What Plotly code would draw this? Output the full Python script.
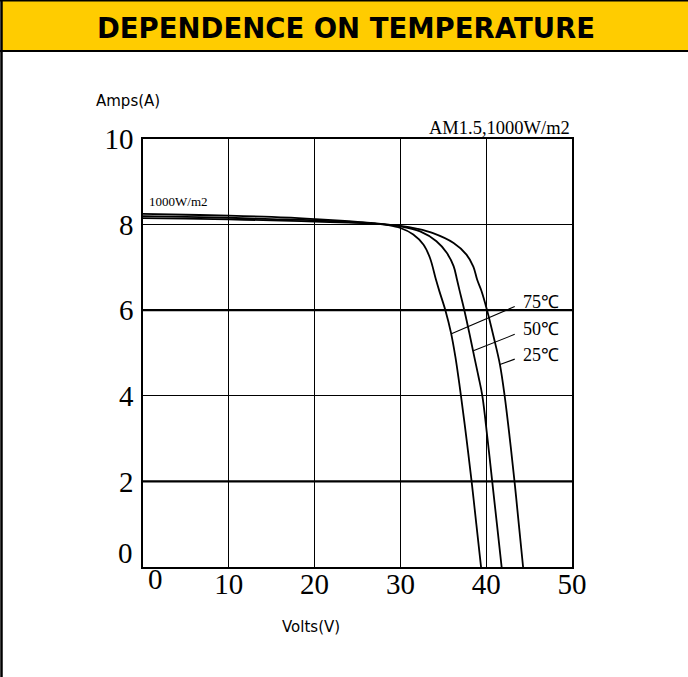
import plotly.graph_objects as go

# ---- data ----
v_25 = [0, 5, 10, 15, 20, 25, 27, 30, 32, 33.8, 36.2, 37.7, 38.5, 38.95, 39.45, 40.1, 40.9, 41.6, 42.15, 42.75, 43.3, 43.8, 44.3]
i_25 = [8.15, 8.14, 8.12, 8.10, 8.07, 8.04, 8.02, 7.97, 7.90, 7.80, 7.57, 7.30, 7.02, 6.71, 6.45, 6.00, 5.35, 4.73, 4.00, 3.00, 2.00, 1.00, 0]

v_50 = [0, 5, 10, 15, 20, 24, 27, 30, 32.3, 34.2, 35.4, 36.2, 36.6, 36.87, 37.45, 38.03, 38.6, 39.1, 39.55, 40.15, 40.7, 41.25, 41.8]
i_50 = [8.20, 8.18, 8.16, 8.13, 8.10, 8.06, 8.02, 7.96, 7.84, 7.61, 7.34, 7.03, 6.71, 6.48, 6.00, 5.47, 4.92, 4.45, 4.00, 3.00, 2.00, 1.00, 0]

v_75 = [0, 5, 10, 15, 20, 24, 26.5, 28.5, 30, 31.5, 32.7, 33.45, 34.15, 34.55, 35.24, 35.9, 36.4, 36.75, 37.06, 37.7, 38.3, 38.85, 39.4]
i_75 = [8.25, 8.23, 8.21, 8.18, 8.13, 8.08, 8.04, 7.99, 7.92, 7.77, 7.53, 7.22, 6.71, 6.44, 6.00, 5.47, 4.92, 4.45, 4.00, 3.00, 2.00, 1.00, 0]

x_ticks = [10, 20, 30, 40, 50]
y_ticks = [2, 4, 6, 8, 10]
thick_grid_y = [2, 6]

# leader lines: (point on curve V, I) -> (label side V, I)
leaders = {
    "75℃": ((35.95, 5.45), (43.5, 6.1)),
    "50℃": ((38.5, 5.05), (43.5, 5.45)),
    "25℃": ((41.6, 4.73), (43.5, 4.87)),
}
label_pos = {"75℃": (44.0, 6.2), "50℃": (44.0, 5.57), "25℃": (44.0, 4.96)}

# ---- layout geometry ----
W, H = 688, 677
L, R, T, B = 143, 572, 139, 567


def px(xp):
    return (xp - L) / (R - L)


def py(yp):
    return (B - yp) / (B - T)


fig = go.Figure()
for name, v, i in [("25℃", v_25, i_25), ("50℃", v_50, i_50), ("75℃", v_75, i_75)]:
    fig.add_trace(go.Scatter(x=v, y=i, mode="lines", name=name,
                             line=dict(color="black", width=1.8, shape="spline", smoothing=1.0),
                             showlegend=False, hoverinfo="skip"))

serif = "Liberation Serif, Times New Roman, serif"
sans = "DejaVu Sans, sans-serif"

fig.update_xaxes(range=[0, 50], tickvals=x_ticks, ticktext=[str(t) for t in x_ticks],
                 showgrid=True, gridcolor="black", gridwidth=1,
                 showline=True, linecolor="black", linewidth=1.5, mirror=True,
                 zeroline=False, ticks="", ticklabelstandoff=-10,
                 tickfont=dict(family=serif, size=29, color="black"))
fig.update_yaxes(range=[0, 10], tickvals=y_ticks, ticktext=[str(t) for t in y_ticks],
                 showgrid=True, gridcolor="black", gridwidth=1,
                 showline=True, linecolor="black", linewidth=1.5, mirror=True,
                 zeroline=False, ticks="", ticklabelstandoff=2,
                 tickfont=dict(family=serif, size=29, color="black"))

shapes = []
for yv in thick_grid_y:
    shapes.append(dict(type="line", xref="paper", yref="y", x0=0, x1=1, y0=yv, y1=yv,
                       line=dict(color="black", width=2.2), layer="above"))
# title bar
shapes.append(dict(type="rect", xref="paper", yref="paper", x0=px(1), x1=px(W + 5), y0=py(51), y1=py(1),
                   fillcolor="#FFCC00", line=dict(width=0), layer="below"))
shapes.append(dict(type="line", xref="paper", yref="paper", x0=px(0), x1=px(W + 5), y0=py(0.8), y1=py(0.8),
                   line=dict(color="black", width=1.6)))
shapes.append(dict(type="line", xref="paper", yref="paper", x0=px(0), x1=px(W + 5), y0=py(51), y1=py(51),
                   line=dict(color="black", width=2)))
shapes.append(dict(type="line", xref="paper", yref="paper", x0=px(1.5), x1=px(1.5), y0=py(0), y1=py(H + 5),
                   line=dict(color="black", width=2.5)))

annotations = []
annotations.append(dict(text="<b>DEPENDENCE ON TEMPERATURE</b>", xref="paper", yref="paper",
                        x=px(346), y=py(28), showarrow=False, xanchor="center", yanchor="middle",
                        font=dict(family="DejaVu Sans, sans-serif", size=27.5, color="black")))
annotations.append(dict(text="Amps(A)", xref="paper", yref="paper", x=px(128), y=py(101),
                        showarrow=False, xanchor="center", yanchor="middle",
                        font=dict(family=sans, size=15, color="black")))
annotations.append(dict(text="Volts(V)", xref="paper", yref="paper", x=px(311), y=py(627),
                        showarrow=False, xanchor="center", yanchor="middle",
                        font=dict(family=sans, size=15, color="black")))
annotations.append(dict(text="AM1.5,1000W/m2", xref="paper", yref="paper", x=1.0, y=py(128),
                        showarrow=False, xanchor="right", yanchor="middle",
                        font=dict(family=serif, size=18.5, color="black")))
annotations.append(dict(text="1000W/m2", xref="paper", yref="paper", x=px(147), y=py(201),
                        showarrow=False, xanchor="left", yanchor="middle",
                        font=dict(family=serif, size=13, color="black")))
# zero tick labels (offset as in the picture)
annotations.append(dict(text="0", xref="paper", yref="y", x=0, y=0, xshift=-8, yshift=14,
                        showarrow=False, xanchor="right", yanchor="middle",
                        font=dict(family=serif, size=29, color="black")))
annotations.append(dict(text="0", xref="x", yref="paper", x=0, y=0, xshift=12, yshift=6,
                        showarrow=False, xanchor="center", yanchor="top",
                        font=dict(family=serif, size=29, color="black")))

for name, ((cx, cy), (lx, ly)) in leaders.items():
    annotations.append(dict(text="", x=cx, y=cy, ax=lx, ay=ly, xref="x", yref="y", axref="x", ayref="y",
                            showarrow=True, arrowhead=0, arrowwidth=1.1, arrowcolor="black"))
for name, (tx, ty) in label_pos.items():
    annotations.append(dict(text=name, x=tx, y=ty, xref="x", yref="y", showarrow=False,
                            xanchor="left", yanchor="middle",
                            font=dict(family=serif, size=18, color="black")))

fig.update_layout(width=W, height=H, margin=dict(l=L, r=W - R, t=T, b=H - B),
                  paper_bgcolor="white", plot_bgcolor="white",
                  shapes=shapes, annotations=annotations)

fig.write_html("out.html", config={"displayModeBar": False},
               post_script="document.body.style.margin='0';document.body.style.overflow='hidden';")
